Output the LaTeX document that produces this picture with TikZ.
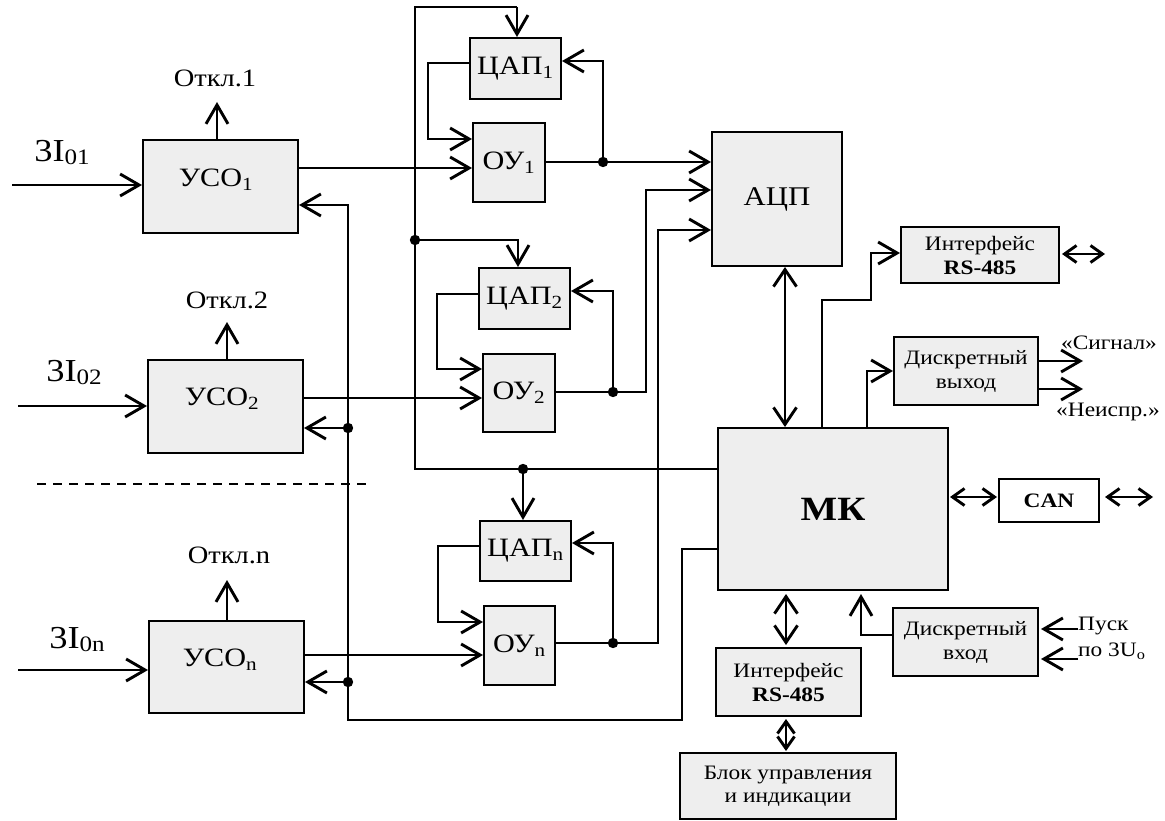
\documentclass[tikz,border=0pt]{standalone}
\usepackage{fontspec}
\setmainfont{Liberation Serif}[FakeStretch=1.14]
\usetikzlibrary{arrows.meta}
\definecolor{boxfill}{RGB}{238,238,238}
\begin{document}
\begin{tikzpicture}[x=1pt,y=-1pt,
  box/.style={draw, line width=2pt, fill=boxfill, inner sep=0pt, align=center},
  wbox/.style={box, fill=white},
  wire/.style={line width=2.9pt},
  arr/.style={wire, -{Straight Barb[length=19pt,width=22pt]}},
  darr/.style={wire, {Straight Barb[length=12pt,width=17pt]}-{Straight Barb[length=12pt,width=17pt]}},
  dvarr/.style={wire, {Straight Barb[length=17pt,width=23pt]}-{Straight Barb[length=17pt,width=23pt]}},
  big/.style={font=\fontsize{26.5}{28}\selectfont},
  mid/.style={font=\fontsize{25}{27}\selectfont},
  sml/.style={font=\fontsize{20.5}{24}\selectfont, align=center},
  inp/.style={font=\fontsize{32}{34}\selectfont},
]
\useasboundingbox (0,0) rectangle (1165,821);

% ---- boxes ----
\node[box, minimum width=155pt, minimum height=93pt] (uso1) at (220.5,186.5) {};
\node[box, minimum width=155pt, minimum height=93pt] (uso2) at (225.5,406.5) {};
\node[box, minimum width=155pt, minimum height=92pt] (uson) at (226.5,667) {};
\node[big] (uso1t) at (216,180) {УСО\textsubscript{1}};
\node[big] (uso2t) at (222,399) {УСО\textsubscript{2}};
\node[big] (usont) at (220,660) {УСО\textsubscript{n}};

\node[box, big, minimum width=91pt, minimum height=61pt] (dac1) at (515.5,68.5) {ЦАП\textsubscript{1}};
\node[box, big, minimum width=72pt, minimum height=79pt] (ou1) at (509,162.5) {ОУ\textsubscript{1}};
\node[box, big, minimum width=91pt, minimum height=61pt] (dac2) at (524.5,298.5) {ЦАП\textsubscript{2}};
\node[box, big, minimum width=72pt, minimum height=78pt] (ou2) at (519,393) {ОУ\textsubscript{2}};
\node[box, big, minimum width=91pt, minimum height=60pt] (dacn) at (525.5,551) {ЦАП\textsubscript{n}};
\node[box, big, minimum width=71pt, minimum height=79pt] (oun) at (519.5,645.5) {ОУ\textsubscript{n}};

\node[box, font=\fontsize{27}{29}\selectfont, minimum width=130pt, minimum height=134pt] (adc) at (777,199) {АЦП};
\node[box, font=\fontsize{34}{36}\selectfont\bfseries, minimum width=230pt, minimum height=162pt] (mk) at (833,509) {МК};

\node[box, sml, minimum width=158pt, minimum height=56pt] (rs1) at (980,255) {Интерфейс\\\textbf{RS-485}};
\node[box, sml, minimum width=144pt, minimum height=68pt] (dout) at (966,371) {Дискретный\\выход};
\node[wbox, font=\fontsize{20.5}{22}\selectfont\bfseries, minimum width=100pt, minimum height=43pt] (can) at (1049,500.5) {CAN};
\node[box, sml, minimum width=145pt, minimum height=68pt] (din) at (965.5,642) {Дискретный\\вход};
\node[box, sml, minimum width=145pt, minimum height=68pt] (rs2) at (788.5,682) {Интерфейс\\\textbf{RS-485}};
\node[box, font=\fontsize{20.5}{23}\selectfont, align=center, minimum width=216pt, minimum height=66pt] (blk) at (788,786) {Блок управления\\и индикации};

% ---- text labels ----
\node[mid] (otk1) at (215,78) {Откл.1};
\node[mid] (otk2) at (227,300) {Откл.2};
\node[mid] (otkn) at (229,555) {Откл.n};
\node[inp] (in1) at (62,153) {3I\raisebox{-3pt}{\fontsize{22}{22}\selectfont 01}};
\node[inp] (in2) at (74,373) {3I\raisebox{-3pt}{\fontsize{22}{22}\selectfont 02}};
\node[inp] (inn) at (77,640) {3I\raisebox{-3pt}{\fontsize{22}{22}\selectfont 0n}};
\node[sml] (sig) at (1109,343) {«Сигнал»};
\node[sml] (neis) at (1108,412) {«Неиспр.»};
\node[sml, anchor=west, inner sep=0pt] (pusk) at (1078,626) {Пуск};
\node[sml, anchor=west, inner sep=0pt] (po3u) at (1078,651) {по 3U\textsubscript{o}};

% ---- free ends / junctions ----
\coordinate (s1) at (12,185);
\coordinate (s2) at (18,406);
\coordinate (sn) at (18,670);
\coordinate (ja1) at (603,162);
\coordinate (ja2) at (613,392);
\coordinate (jan) at (613,643);
\coordinate (jb1) at (415,240);
\coordinate (jb2) at (523,469);
\coordinate (jc2) at (348,428);
\coordinate (jcn) at (348,682);

% ---- inputs and trip outputs ----
\draw[arr] (s1) -- (uso1.west |- s1);
\draw[arr] (s2) -- (uso2.west |- s2);
\draw[arr] (sn) -- (uson.west |- sn);
\draw[arr] (uso1.north -| 217,0) -- (217,102);
\draw[arr] (uso2.north -| 227,0) -- (227,322);
\draw[arr] (uson.north -| 227,0) -- (227,580);

% ---- channel 1 ----
\draw[arr] (uso1.east |- 0,168) -- (ou1.west |- 0,168);
\draw[arr] (dac1.west |- 0,63) -| (428,139) -- (ou1.west |- 0,139);
\draw[arr] (ou1.east |- ja1) -- (adc.west |- ja1);
\draw[arr] (ja1) |- (dac1.east |- 0,61);

% ---- channel 2 ----
\draw[arr] (uso2.east |- 0,398) -- (ou2.west |- 0,398);
\draw[arr] (dac2.west |- 0,294) -| (437,369) -- (ou2.west |- 0,369);
\draw[arr] (ou2.east |- ja2) -- (646,392) |- (adc.west |- 0,190);
\draw[arr] (ja2) |- (dac2.east |- 0,291);

% ---- channel n ----
\draw[arr] (uson.east |- 0,655) -- (oun.west |- 0,655);
\draw[arr] (dacn.west |- 0,546) -| (438,622) -- (oun.west |- 0,622);
\draw[arr] (oun.east |- jan) -- (658,643) |- (adc.west |- 0,230);
\draw[arr] (jan) |- (dacn.east |- 0,543);

% ---- DAC control bus from MK ----
\draw[wire] (mk.west |- 0,469) -- (415,469) -- (415,7) -- (517,7);
\draw[arr] (517,7) -- (dac1.north -| 517,0);
\draw[arr] (jb1) -- (518,240) -- (dac2.north -| 518,0);
\draw[arr] (jb2) -- (dacn.north -| jb2);

% ---- feedback bus from MK to USO ----
\draw[arr] (mk.west |- 0,549) -- (682,549) -- (682,720) -- (348,720) -- (348,205) -- (uso1.east |- 0,205);
\draw[arr] (jc2) -- (uso2.east |- jc2);
\draw[arr] (jcn) -- (uson.east |- jcn);

% ---- junction dots ----
\foreach \j in {ja1,ja2,jan,jb1,jb2,jc2,jcn} \fill (\j) circle (5.2pt);

% ---- MK periphery ----
\draw[dvarr] (adc.south -| 785,0) -- (mk.north -| 785,0);
\draw[arr] (mk.north -| 822,0) -- (822,300) -- (871,300) -- (871,253) -- (rs1.west |- 0,253);
\draw[arr] (mk.north -| 867,0) |- (dout.west |- 0,371);
\draw[arr] (dout.east |- 0,361) -- (1083,361);
\draw[arr] (dout.east |- 0,389) -- (1083,389);
\draw[darr] ([xshift=2pt]rs1.east |- 0,254) -- (1105,254);
\draw[darr] ([xshift=1pt]mk.east |- 0,497) -- ([xshift=-1pt]can.west |- 0,497);
\draw[darr] ([xshift=5pt]can.east |- 0,497) -- (1153,497);
\draw[arr] (din.west |- 0,635) -| ([yshift=-3pt]mk.south -| 861,0);
\draw[arr] (pusk.west |- 0,629) -- ([xshift=2pt]din.east |- 0,629);
\draw[arr] (pusk.west |- 0,659) -- ([xshift=2pt]din.east |- 0,659);
\draw[dvarr] ([yshift=-3pt]mk.south -| 786,0) -- ([yshift=2pt]rs2.north -| 786,0);
\draw[darr] ([yshift=-2pt]rs2.south -| 786,0) -- ([yshift=1pt]blk.north -| 786,0);

% ---- separator ----
\draw[line width=1.3pt, dash pattern=on 9pt off 7pt] (37,484) -- (372,484);
\end{tikzpicture}
\end{document}
